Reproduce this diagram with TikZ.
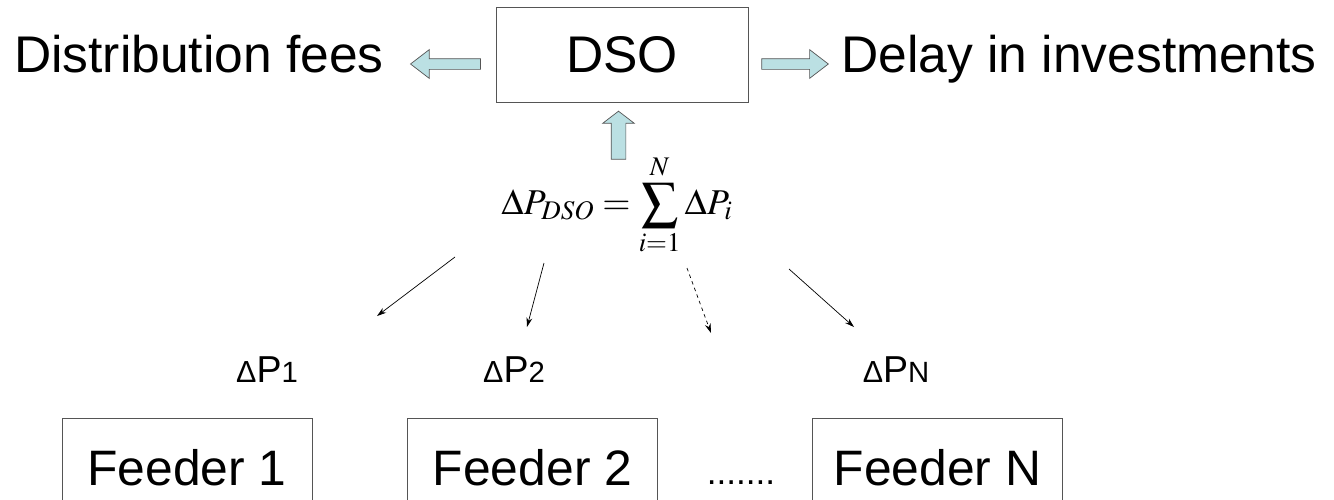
\documentclass[tikz,border=0pt]{standalone}
\usepackage{mathptmx}
\usepackage[no-math]{fontspec}
\setmainfont{Liberation Sans}
\usetikzlibrary{shapes.arrows}
\usetikzlibrary{arrows.meta}

\definecolor{arrowcyan}{RGB}{187,224,227}
\definecolor{edgegray}{RGB}{85,85,85}

\tikzset{
  box/.style={draw=edgegray, line width=0.8pt, inner sep=0pt},
  bigtext/.style={font=\fontsize{44}{50}\selectfont, inner sep=0pt},
  fat/.style={single arrow, draw=edgegray, fill=arrowcyan, line width=0.6pt,
    inner xsep=0pt, inner ysep=0.15cm, single arrow head extend=0.27cm,
    single arrow tip angle=75, minimum height=2.1cm},
  link/.style={-{Stealth[length=8pt,width=5pt]}, line width=0.6pt},
  dlab/.style={inner sep=0pt, anchor=base, font=\fontsize{32}{38}\selectfont},
}
\newcommand{\dlabel}[1]{{\fontsize{26}{30}\selectfont Δ}P{\fontsize{25}{30}\selectfont #1}}

\begin{document}
\begin{tikzpicture}[x=0.03cm, y=-0.03cm]
  \useasboundingbox (0,0) rectangle (1334,499);
  \clip (0,0) rectangle (1334,499);

  \node[box, bigtext, minimum width=7.56cm, minimum height=2.85cm] (dso) at (622,54.5) {DSO};
  \node[fat, rotate=180] (larrow) at (449,64) {};
  \node[fat, minimum height=2cm] (rarrow) at (791.5,64) {};
  \node[bigtext, anchor=base east] (fees) at (384,72) {Distribution fees};
  \node[bigtext, anchor=base west] (delay) at (841,72) {Delay in investments};

  \node[fat, rotate=90, minimum height=1.44cm, inner ysep=0.21cm,
    single arrow head extend=0.255cm, single arrow tip angle=105] (uarrow) at (618.5,138) {};
  \node[inner sep=0pt, font=\fontsize{31}{36}\selectfont] (sum) at (617,205)
    {$\displaystyle \Delta P_{DSO} = \sum_{i=1}^{N} \Delta P_i$};

  % free ends of the links
  \coordinate (s1) at (455,257);
  \coordinate (e1) at (377,316);
  \coordinate (s2) at (544,263);
  \coordinate (e2) at (527,327);
  \coordinate (s3) at (687,268);
  \coordinate (e3) at (711,333);
  \coordinate (s4) at (789,269);
  \coordinate (e4) at (854,327);
  \draw[link] (s1) -- (e1);
  \draw[link] (s2) -- (e2);
  \draw[link, dashed] (s3) -- (e3);
  \draw[link] (s4) -- (e4);

  \node[dlab] (dp1) at (267,382) {\dlabel{1}};
  \node[dlab] (dp2) at (514,382) {\dlabel{2}};
  \node[dlab] (dpN) at (896,382) {\dlabel{N}};

  \node[box, minimum width=7.5cm, minimum height=3cm, font=\fontsize{42.5}{48}\selectfont] (f1) at (187,468) {Feeder 1};
  \node[box, minimum width=7.5cm, minimum height=3cm, font=\fontsize{42.5}{48}\selectfont] (f2) at (532.5,468) {Feeder 2};
  \node[box, minimum width=7.5cm, minimum height=3cm, font=\fontsize{42.5}{48}\selectfont] (fN) at (937.5,468) {Feeder N};
  \node[inner sep=0pt, anchor=base, font=\fontsize{30}{36}\selectfont] (dots) at (741,484) {.......};
\end{tikzpicture}
\end{document}
